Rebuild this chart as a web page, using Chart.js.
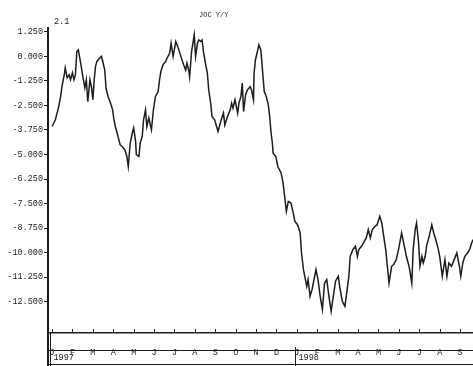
<!DOCTYPE html>
<html>
<head>
<meta charset="utf-8">
<script src="https://cdn.jsdelivr.net/npm/chart.js@4.4.1/dist/chart.umd.min.js"></script>
<style>
  html, body { margin: 0; padding: 0; background: #ffffff; }
  #wrap { width: 473px; height: 366px; position: relative; }
</style>
</head>
<body>
<div id="wrap"><canvas id="c" width="473" height="366"></canvas></div>
<script>
// JOC industrial price index, year-over-year change (%), 1997-1998
const dates = [
  "1997-01-01","1997-01-06","1997-01-11","1997-01-14","1997-01-16","1997-01-20","1997-01-21","1997-01-24","1997-01-27","1997-01-29",
  "1997-02-01","1997-02-03","1997-02-05","1997-02-07","1997-02-09","1997-02-11","1997-02-13","1997-02-16","1997-02-18","1997-02-20",
  "1997-02-22","1997-02-25","1997-02-27","1997-03-01","1997-03-03","1997-03-05","1997-03-07","1997-03-11","1997-03-14","1997-03-16",
  "1997-03-19","1997-03-21","1997-03-24","1997-03-27","1997-03-31","1997-04-02","1997-04-04","1997-04-08","1997-04-11","1997-04-14",
  "1997-04-18","1997-04-21","1997-04-23","1997-04-26","1997-04-29","1997-05-01","1997-05-04","1997-05-05","1997-05-09","1997-05-11",
  "1997-05-14","1997-05-16","1997-05-19","1997-05-21","1997-05-24","1997-05-28","1997-05-31","1997-06-03","1997-06-07","1997-06-09",
  "1997-06-11","1997-06-14","1997-06-18","1997-06-20","1997-06-24","1997-06-26","1997-06-29","1997-07-03","1997-07-06","1997-07-10",
  "1997-07-14","1997-07-18","1997-07-20","1997-07-23","1997-07-24","1997-07-27","1997-07-31","1997-08-02","1997-08-05","1997-08-07",
  "1997-08-10","1997-08-12","1997-08-14","1997-08-17","1997-08-20","1997-08-22","1997-08-25","1997-08-27","1997-08-31","1997-09-05",
  "1997-09-09","1997-09-13","1997-09-15","1997-09-19","1997-09-23","1997-09-25","1997-09-27","1997-09-30","1997-10-04","1997-10-06",
  "1997-10-09","1997-10-11","1997-10-13","1997-10-16","1997-10-19","1997-10-23","1997-10-25","1997-10-28","1997-10-29","1997-10-31",
  "1997-11-03","1997-11-05","1997-11-08","1997-11-10","1997-11-13","1997-11-16","1997-11-19","1997-11-21","1997-11-23","1997-11-25",
  "1997-11-26","1997-11-30","1997-12-03","1997-12-08","1997-12-11","1997-12-14","1997-12-16","1997-12-19","1997-12-23","1997-12-26",
  "1997-12-29","1998-01-02","1998-01-06","1998-01-08","1998-01-11","1998-01-13","1998-01-16","1998-01-18","1998-01-21","1998-01-24",
  "1998-01-26","1998-01-30","1998-02-02","1998-02-05","1998-02-08","1998-02-11","1998-02-14","1998-02-17","1998-02-20","1998-02-23",
  "1998-02-26","1998-03-02","1998-03-04","1998-03-08","1998-03-12","1998-03-14","1998-03-18","1998-03-20","1998-03-24","1998-03-28",
  "1998-03-31","1998-04-02","1998-04-06","1998-04-09","1998-04-13","1998-04-16","1998-04-19","1998-04-22","1998-04-26","1998-04-29",
  "1998-05-03","1998-05-06","1998-05-09","1998-05-12","1998-05-14","1998-05-17","1998-05-21","1998-05-24","1998-05-28","1998-06-01",
  "1998-06-05","1998-06-07","1998-06-10","1998-06-12","1998-06-16","1998-06-20","1998-06-22","1998-06-25","1998-06-27","1998-06-30",
  "1998-07-02","1998-07-05","1998-07-07","1998-07-10","1998-07-12","1998-07-16","1998-07-20","1998-07-23","1998-07-26","1998-07-30",
  "1998-08-01","1998-08-05","1998-08-09","1998-08-12","1998-08-15","1998-08-19","1998-08-23","1998-08-27","1998-08-31","1998-09-02",
  "1998-09-05","1998-09-08","1998-09-12","1998-09-15","1998-09-18","1998-09-20"
];
const yoy = [
  -3.57,-3.23,-2.57,-2.04,-1.54,-0.84,-0.58,-1.09,-0.94,-1.19,
  -0.84,-1.19,-0.94,0.25,0.33,-0.07,-0.52,-1.19,-1.60,-1.19,
  -2.30,-1.19,-1.54,-2.21,-1.19,-0.52,-0.26,-0.09,0.00,-0.26,
  -0.68,-1.62,-2.04,-2.30,-2.72,-3.23,-3.57,-4.08,-4.50,-4.59,
  -4.76,-5.10,-5.61,-4.40,-3.89,-3.64,-4.34,-5.01,-5.10,-4.40,
  -4.08,-3.23,-2.72,-3.57,-3.13,-3.74,-2.72,-2.04,-1.79,-1.19,
  -0.77,-0.43,-0.26,-0.09,0.17,0.67,0.00,0.76,0.50,0.08,
  -0.34,-0.70,-0.34,-0.77,-1.03,0.25,1.10,0.00,0.67,0.84,
  0.76,0.84,0.25,-0.34,-0.85,-1.70,-2.38,-3.06,-3.23,-3.83,
  -3.32,-2.89,-3.49,-3.06,-2.72,-2.38,-2.63,-2.21,-2.89,-2.38,
  -2.04,-1.36,-2.81,-1.96,-1.70,-1.54,-1.70,-2.21,-0.85,-0.18,
  0.25,0.59,0.33,-0.52,-1.79,-2.04,-2.47,-3.06,-3.89,-4.42,
  -4.93,-5.10,-5.61,-5.94,-6.45,-7.30,-7.90,-7.39,-7.47,-7.90,
  -8.41,-8.58,-9.00,-10.02,-10.87,-11.21,-11.72,-11.38,-12.23,-11.89,
  -11.55,-10.87,-11.38,-12.23,-12.90,-11.55,-11.38,-12.23,-12.99,-12.23,
  -11.46,-11.21,-11.72,-12.48,-12.74,-12.23,-11.21,-10.19,-9.85,-9.68,
  -10.19,-9.85,-9.68,-9.51,-9.25,-8.83,-9.25,-8.83,-8.66,-8.58,
  -8.15,-8.49,-9.17,-9.85,-10.53,-11.55,-10.70,-10.61,-10.36,-9.76,
  -9.00,-9.34,-9.85,-10.19,-10.70,-11.55,-9.85,-8.83,-8.49,-9.51,
  -10.70,-10.19,-10.53,-10.19,-9.68,-9.17,-8.58,-9.00,-9.34,-9.85,
  -10.19,-11.21,-10.36,-11.21,-10.53,-10.70,-10.36,-10.02,-10.70,-11.21,
  -10.53,-10.19,-10.02,-9.85,-9.51,-9.34
];
const yTicks = [1.25, 0, -1.25, -2.5, -3.75, -5, -6.25, -7.5, -8.75, -10, -11.25, -12.5];
const monthLetters = ["J","F","M","A","M","J","J","A","S","O","N","D"];
const years = ["1997", "1998"];
const titleText = "JOC Y/Y";
const cornerText = "2.1";

const MONO = "'Liberation Mono', 'DejaVu Sans Mono', monospace";
const INK = "#1c1c1c";

// months elapsed since 1 Jan of the first year, fractional within the month
function monthPos(s) {
  const [y, m, d] = s.split("-").map(Number);
  const dim = new Date(y, m, 0).getDate();
  return (y - Number(years[0])) * 12 + (m - 1) + (d - 1) / dim;
}
const points = dates.map((d, i) => ({ x: monthPos(d), y: yoy[i] }));
const lastPos = points[points.length - 1].x;
const monthCount = Math.floor(lastPos) + 1;

const frame = {
  id: "frame",
  afterDraw(chart) {
    const { ctx, chartArea: a, scales: { x } } = chart;
    const H = chart.height;
    ctx.save();
    ctx.strokeStyle = INK;
    ctx.fillStyle = INK;

    // month tick marks pointing up from the time axis
    ctx.lineWidth = 1;
    ctx.beginPath();
    for (let m = 0; m < monthCount; m++) {
      const px = Math.round(x.getPixelForValue(m)) + 0.5;
      ctx.moveTo(px, a.bottom);
      ctx.lineTo(px, a.bottom - 4);
    }
    ctx.stroke();

    // rules under the month row and at the foot of the year row
    ctx.beginPath();
    ctx.moveTo(a.left, a.bottom + 17.5);
    ctx.lineTo(a.right, a.bottom + 17.5);
    ctx.moveTo(a.left, H - 1.5);
    ctx.lineTo(a.right, H - 1.5);
    ctx.stroke();

    // value axis carried down through the date rows
    ctx.lineWidth = 2;
    ctx.beginPath();
    ctx.moveTo(a.left, a.bottom);
    ctx.lineTo(a.left, H);
    ctx.stroke();

    // year dividers and labels
    ctx.lineWidth = 1;
    ctx.font = "8.5px " + MONO;
    ctx.textAlign = "left";
    ctx.textBaseline = "middle";
    years.forEach((yr, i) => {
      const px = Math.round(x.getPixelForValue(i * 12)) - 1.5;
      ctx.beginPath();
      ctx.moveTo(px, i === 0 ? a.bottom : a.bottom + 14);
      ctx.lineTo(px, H);
      ctx.stroke();
      ctx.fillText(yr, px + 3, a.bottom + 25);
    });

    // heading and corner note
    ctx.font = "7px " + MONO;
    ctx.textAlign = "center";
    ctx.fillText(titleText, a.left + (a.right - a.left) * 0.39, 15);
    ctx.font = "8.5px " + MONO;
    ctx.textAlign = "left";
    ctx.fillText(cornerText, a.left + 6, 22);
    ctx.restore();
  }
};

new Chart(document.getElementById("c"), {
  type: "line",
  data: {
    datasets: [{
      data: points,
      borderColor: INK,
      borderWidth: 1.5,
      pointRadius: 0,
      tension: 0,
      fill: false
    }]
  },
  options: {
    responsive: false,
    animation: false,
    events: [],
    layout: { padding: { top: 28, right: 0, bottom: 0, left: 0 } },
    plugins: { legend: { display: false }, title: { display: false }, tooltip: { enabled: false } },
    scales: {
      x: {
        type: "linear",
        min: -0.2,
        max: lastPos,
        afterFit(s) { s.height = 33; },
        afterBuildTicks(s) {
          s.ticks = Array.from({ length: monthCount }, (_, m) => ({ value: m }));
        },
        grid: { display: false },
        border: { display: true, color: INK, width: 1.5 },
        ticks: {
          autoSkip: false,
          maxRotation: 0,
          padding: 7,
          color: INK,
          font: { family: MONO, size: 8.5 },
          callback: v => monthLetters[((v % 12) + 12) % 12]
        }
      },
      y: {
        min: -14.1,
        max: 1.45,
        afterFit(s) { s.width = 48; },
        afterBuildTicks(s) { s.ticks = yTicks.map(v => ({ value: v })); },
        grid: { display: true, drawOnChartArea: false, drawTicks: true, tickLength: 4, color: INK, lineWidth: 1 },
        border: { display: true, color: INK, width: 2 },
        ticks: {
          padding: 1,
          color: INK,
          font: { family: MONO, size: 8.5 },
          callback: v => Number(v).toFixed(3)
        }
      }
    }
  },
  plugins: [frame]
});
</script>
</body>
</html>
